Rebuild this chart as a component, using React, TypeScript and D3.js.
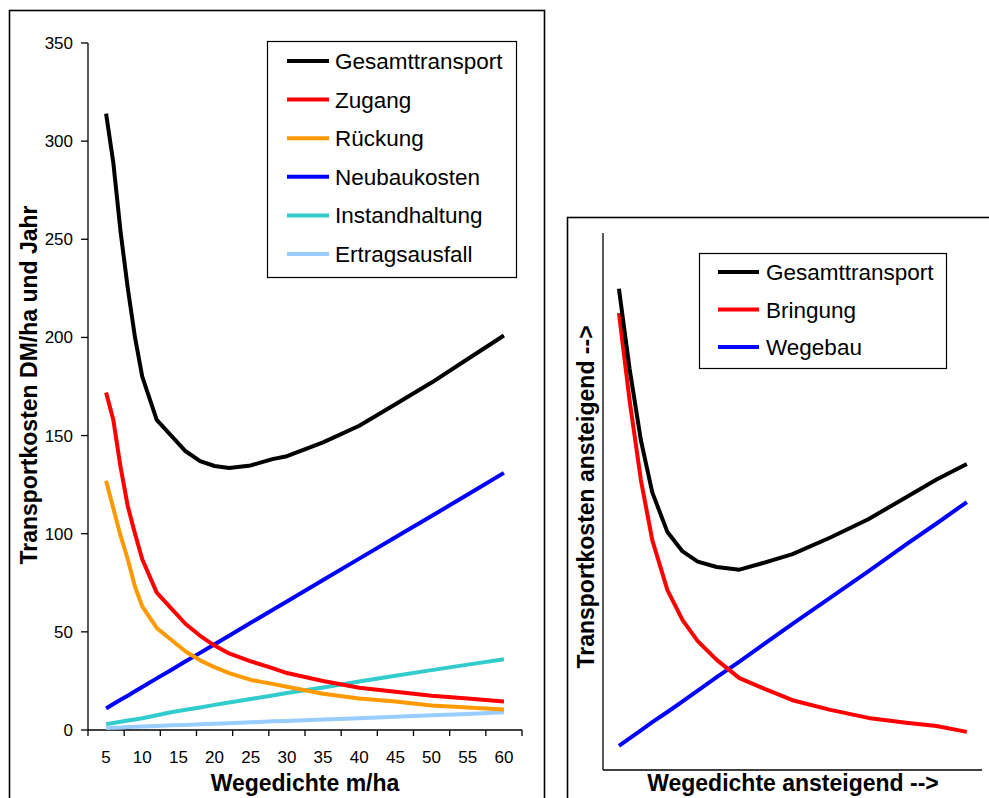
import React from "react";
import * as d3 from "d3";

// ---------- Left chart data ----------
const wegedichte = [5, 6, 7, 8, 9, 10, 12, 14, 16, 18, 20, 22, 25, 28, 30, 35, 40, 45, 50, 55, 60];
const gesamttransport = [314, 289, 254, 225, 200, 180, 158, 150, 142, 137, 134.5, 133.5, 134.8, 138, 139.5, 146.5, 155, 166, 177, 189, 201];
const zugang = [172, 158, 134, 114, 100, 87, 70, 62, 54, 48, 43, 39, 35, 31.5, 29, 25, 21.5, 19.5, 17.5, 16, 14.5];
const rueckung = [127, 113, 99, 87, 73, 63, 52, 46, 40, 35.5, 32, 29, 25.5, 23.5, 22, 18.5, 16, 14.5, 12.5, 11.5, 10.5];
const neubaukosten = [11, 13.2, 15.4, 17.5, 19.7, 21.9, 26.3, 30.6, 35, 39.3, 43.7, 48, 54.6, 61.1, 65.5, 76.4, 87.3, 98.2, 109, 120, 131];
const instandhaltung = [3, 3.6, 4.2, 4.8, 5.4, 6, 7.5, 9, 10.3, 11.5, 12.8, 14, 15.8, 17.6, 18.8, 21.7, 24.7, 27.6, 30.5, 33.3, 36];
const ertragsausfall = [1, 1.2, 1.3, 1.5, 1.6, 1.8, 2.1, 2.4, 2.6, 2.9, 3.2, 3.5, 3.9, 4.4, 4.6, 5.3, 6, 6.8, 7.5, 8.2, 9];
const xTickLabels = [5, 10, 15, 20, 25, 30, 35, 40, 45, 50, 55, 60];
const yTicks = [0, 50, 100, 150, 200, 250, 300, 350];

const leftSeries = [
  { name: "Gesamttransport", values: gesamttransport, color: "#000000" },
  { name: "Zugang", values: zugang, color: "#FF0000" },
  { name: "Rückung", values: rueckung, color: "#FF9900" },
  { name: "Neubaukosten", values: neubaukosten, color: "#0000FF" },
  { name: "Instandhaltung", values: instandhaltung, color: "#33CCCC" },
  { name: "Ertragsausfall", values: ertragsausfall, color: "#99CCFF" },
];

// ---------- Right chart data (schematic, arbitrary units) ----------
const dichteSchema = [4.2, 7, 10, 13, 17, 21, 25, 30, 36, 42, 50, 60, 70, 80, 88, 96];
const gesamtSchema = [89.6, 74.8, 61.4, 51.7, 44.3, 40.7, 38.8, 37.8, 37.3, 38.5, 40.2, 43.3, 46.7, 50.8, 54.1, 57];
const bringungSchema = [85.1, 68.9, 54, 42.8, 33.5, 27.9, 24, 20.5, 17.1, 15.3, 13, 11.2, 9.7, 8.8, 8.2, 7.1];
const wegebauSchema = [4.5, 5.9, 7.4, 8.9, 10.8, 12.8, 14.8, 17.3, 20.2, 23.2, 27.2, 32.1, 37.0, 42.0, 45.9, 49.9];

const rightSeries = [
  { name: "Gesamttransport", values: gesamtSchema, color: "#000000" },
  { name: "Bringung", values: bringungSchema, color: "#FF0000" },
  { name: "Wegebau", values: wegebauSchema, color: "#0000FF" },
];

const FONT = "'Liberation Sans', Arial, Helvetica, sans-serif";

export default function App() {
  // left scales
  const xL = d3.scaleLinear().domain([2.5, 62.5]).range([88, 522]);
  const yL = d3.scaleLinear().domain([0, 350]).range([730, 43]);
  const lineL = (vals: number[]) =>
    d3.line<number>().x((_, i) => xL(wegedichte[i])).y((d) => yL(d))(vals) || "";
  const xTickPos = d3.range(0, 13).map((i) => 2.5 + 5 * i);

  // right scales
  const xR = d3.scaleLinear().domain([0, 100]).range([603, 982]);
  const yR = d3.scaleLinear().domain([0, 100]).range([770, 233]);
  const lineR = (vals: number[]) =>
    d3.line<number>().x((_, i) => xR(dichteSchema[i])).y((d) => yR(d))(vals) || "";

  const legL = { x: 267, y: 41, w: 249, h: 236, rowY0: 61, rowStep: 38.6 };
  const legR = { x: 699, y: 253, w: 247, h: 115, rowY0: 272, rowStep: 37.5 };

  return (
    <svg
      width={989}
      height={798}
      style={{ position: "absolute", left: 0, top: 0, background: "#fff" }}
      fontFamily={FONT}
    >
      <rect x={0} y={0} width={989} height={798} fill="#fff" />
      {/* ===== Left chart ===== */}
      <rect x={9.5} y={10.5} width={535} height={800} fill="none" stroke="#000" strokeWidth={1.6} />
      {/* y axis */}
      <line x1={88} x2={88} y1={yL(350)} y2={yL(0)} stroke="#000" strokeWidth={1.3} />
      {yTicks.map((t) => (
        <g key={t}>
          <line x1={81} x2={88} y1={yL(t)} y2={yL(t)} stroke="#000" strokeWidth={1.3} />
          <text x={73} y={yL(t) + 6} textAnchor="end" fontSize={17} fill="#000">
            {t}
          </text>
        </g>
      ))}
      {/* x axis */}
      <line x1={88} x2={522} y1={730} y2={730} stroke="#000" strokeWidth={1.3} />
      {xTickPos.map((p) => (
        <line key={p} x1={xL(p)} x2={xL(p)} y1={730} y2={736} stroke="#000" strokeWidth={1.3} />
      ))}
      {xTickLabels.map((t) => (
        <text key={t} x={xL(t)} y={763} textAnchor="middle" fontSize={17} fill="#000">
          {t}
        </text>
      ))}
      <text x={305} y={791} textAnchor="middle" fontSize={23} fontWeight="bold" fill="#000">
        Wegedichte m/ha
      </text>
      <text
        transform="translate(37,385) rotate(-90)"
        textAnchor="middle"
        fontSize={23}
        fontWeight="bold"
        fill="#000"
      >
        Transportkosten DM/ha und Jahr
      </text>
      {/* series (drawn bottom to top) */}
      {[...leftSeries].reverse().map((s) => (
        <path
          key={s.name}
          d={lineL(s.values)}
          fill="none"
          stroke={s.color}
          strokeWidth={4}
          strokeLinejoin="round"
        />
      ))}
      {/* legend */}
      <rect x={legL.x + 0.5} y={legL.y + 0.5} width={legL.w} height={legL.h} fill="#fff" stroke="#000" strokeWidth={1.2} />
      {leftSeries.map((s, i) => {
        const cy = legL.rowY0 + i * legL.rowStep;
        return (
          <g key={s.name}>
            <line x1={287} x2={329} y1={cy} y2={cy} stroke={s.color} strokeWidth={4} />
            <text x={335} y={cy + 8} fontSize={22.5} fill="#000">
              {s.name}
            </text>
          </g>
        );
      })}

      {/* ===== Right chart ===== */}
      <rect x={567.5} y={217.5} width={440} height={600} fill="none" stroke="#000" strokeWidth={1.6} />
      <line x1={603} x2={603} y1={233} y2={770} stroke="#000" strokeWidth={1.3} />
      <line x1={603} x2={982} y1={770} y2={770} stroke="#000" strokeWidth={1.3} />
      <text x={793} y={791} textAnchor="middle" fontSize={23} fontWeight="bold" fill="#000">
        Wegedichte ansteigend --&gt;
      </text>
      <text
        transform="translate(594,497) rotate(-90)"
        textAnchor="middle"
        fontSize={23}
        fontWeight="bold"
        fill="#000"
      >
        Transportkosten ansteigend --&gt;
      </text>
      {[...rightSeries].reverse().map((s) => (
        <path
          key={s.name}
          d={lineR(s.values)}
          fill="none"
          stroke={s.color}
          strokeWidth={4}
          strokeLinejoin="round"
        />
      ))}
      <rect x={legR.x + 0.5} y={legR.y + 0.5} width={legR.w} height={legR.h} fill="#fff" stroke="#000" strokeWidth={1.2} />
      {rightSeries.map((s, i) => {
        const cy = legR.rowY0 + i * legR.rowStep;
        return (
          <g key={s.name}>
            <line x1={718} x2={759} y1={cy} y2={cy} stroke={s.color} strokeWidth={4} />
            <text x={766} y={cy + 8} fontSize={22.5} fill="#000">
              {s.name}
            </text>
          </g>
        );
      })}
    </svg>
  );
}
